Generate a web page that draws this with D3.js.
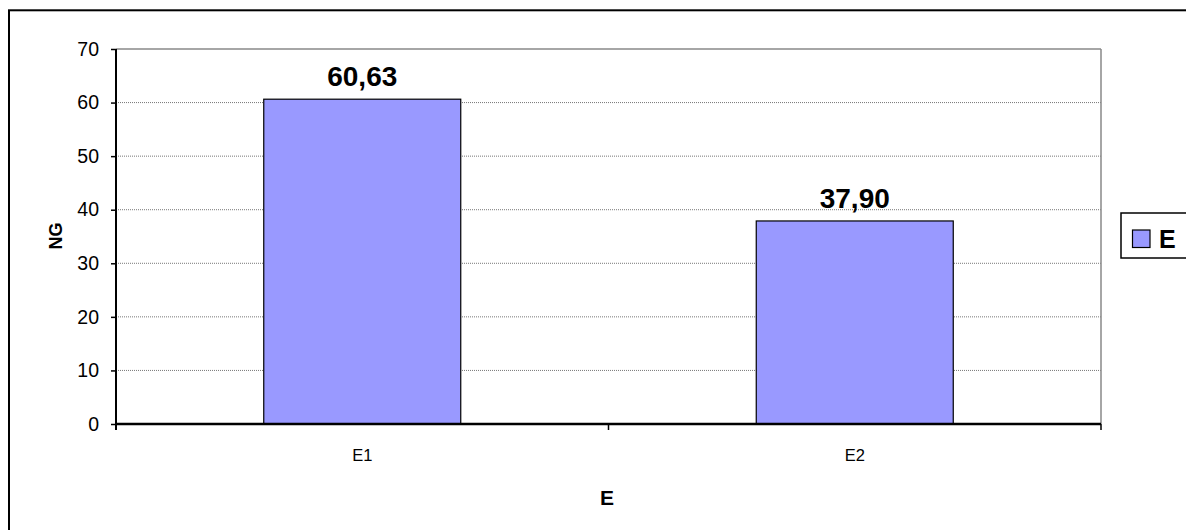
<!DOCTYPE html>
<html><head><meta charset="utf-8">
<script src="https://cdn.jsdelivr.net/npm/d3@7"></script>
<style>body{margin:0;background:#fff;font-family:"Liberation Sans",Arial,sans-serif;}</style>
</head><body><svg id="c" width="1186" height="530"></svg>
<script>
const categories = ["E1", "E2"];
const values = [60.63, 37.90];
const valueLabels = ["60,63", "37,90"];
const yTicks = [0, 10, 20, 30, 40, 50, 60, 70];
const seriesName = "E";
const xTitle = "E";
const yTitle = "NG";

const FONT = "Liberation Sans, Arial, sans-serif";
const svg = d3.select("#c").attr("font-family", FONT);
const L = 116, R = 1101, T = 49, B = 424;
// outer border
svg.append("rect").attr("x", 9).attr("y", 10.3).attr("width", 1200).attr("height", 600)
  .attr("fill", "none").attr("stroke", "#000").attr("stroke-width", 2);

const x = d3.scaleBand().domain(categories).range([L, R]).paddingInner(0.6).paddingOuter(0.3);
const y = d3.scaleLinear().domain([0, 70]).range([B, T]);

// gridlines
svg.append("g").selectAll("line").data(yTicks.filter(d => d > 0 && d < 70)).join("line")
  .attr("x1", L).attr("x2", R).attr("y1", d => y(d)).attr("y2", d => y(d))
  .attr("stroke", "#777").attr("stroke-width", 1).attr("stroke-dasharray", "1,1");
// plot border top/right
svg.append("line").attr("x1", L).attr("x2", R).attr("y1", y(70)).attr("y2", y(70)).attr("stroke", "#888").attr("stroke-width", 1.5);
svg.append("line").attr("x1", R).attr("x2", R).attr("y1", T).attr("y2", B).attr("stroke", "#888").attr("stroke-width", 1.5);

// bars
svg.append("g").selectAll("rect").data(values).join("rect")
  .attr("x", (d, i) => x(categories[i])).attr("width", x.bandwidth())
  .attr("y", d => y(d)).attr("height", d => B - y(d))
  .attr("fill", "#9999ff").attr("stroke", "#000").attr("stroke-width", 1.2);

// value labels
svg.append("g").selectAll("text").data(values).join("text")
  .attr("x", (d, i) => x(categories[i]) + x.bandwidth() / 2)
  .attr("y", d => y(d) - 13)
  .attr("text-anchor", "middle").attr("font-weight", "bold").attr("font-size", 28)
  .text((d, i) => valueLabels[i]);

// y axis
const ya = svg.append("g").attr("transform", `translate(${L},0)`)
  .call(d3.axisLeft(y).tickValues(yTicks).tickSize(5).tickPadding(12));
ya.select(".domain").attr("stroke", "#000").attr("stroke-width", 2).attr("d", `M0,${T}V${B + 6}`);
ya.selectAll(".tick line").attr("stroke", "#000").attr("stroke-width", 1.5);
ya.selectAll(".tick text").attr("font-size", 19.5).attr("font-family", FONT).attr("fill", "#000");

// x axis
const xa = svg.append("g").attr("transform", `translate(0,${B})`)
  .call(d3.axisBottom(x).tickSize(0).tickPadding(25));
xa.select(".domain").attr("stroke", "#000").attr("stroke-width", 2.5).attr("d", `M${L},0H${R}`);
xa.selectAll(".tick text").attr("font-size", 16.5).attr("font-family", FONT).attr("fill", "#000");
const bounds = [(x("E1") + x.bandwidth() + x("E2")) / 2, R];
svg.append("g").selectAll("line").data(bounds).join("line")
  .attr("x1", d => d).attr("x2", d => d).attr("y1", B).attr("y2", B + 6)
  .attr("stroke", "#000").attr("stroke-width", 1.5);

// titles
svg.append("text").attr("x", 607).attr("y", 505).attr("text-anchor", "middle")
  .attr("font-weight", "bold").attr("font-size", 21).text(xTitle);
svg.append("text").attr("transform", `translate(62,236) rotate(-90)`)
  .attr("text-anchor", "middle").attr("font-weight", "bold").attr("font-size", 18).text(yTitle);

// legend
svg.append("rect").attr("x", 1121).attr("y", 213).attr("width", 100).attr("height", 45)
  .attr("fill", "#fff").attr("stroke", "#000").attr("stroke-width", 1.5);
svg.append("rect").attr("x", 1132.5).attr("y", 230).attr("width", 17.5).attr("height", 17.5)
  .attr("fill", "#9999ff").attr("stroke", "#000").attr("stroke-width", 1.2);
svg.append("text").attr("x", 1159).attr("y", 248).attr("font-weight", "bold").attr("font-size", 25).text(seriesName);
</script></body></html>
